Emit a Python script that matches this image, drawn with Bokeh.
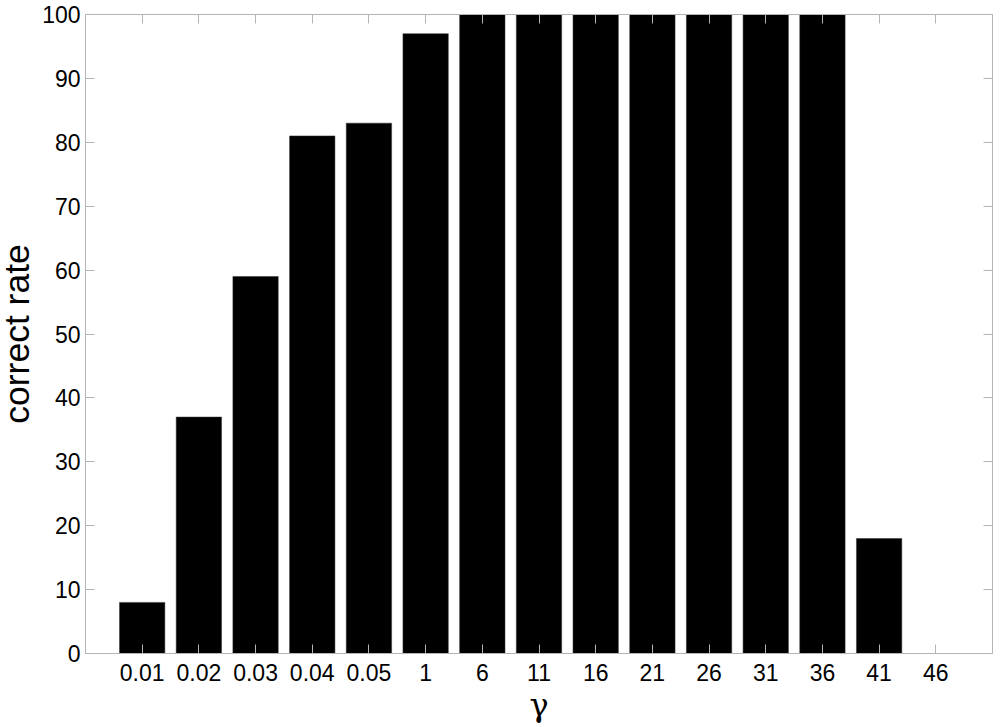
import numpy as np
from bokeh.plotting import figure
from bokeh.models import ColumnDataSource, Range1d, FixedTicker, LinearAxis
from bokeh.embed import file_html
from bokeh.resources import INLINE

categories = ["0.01", "0.02", "0.03", "0.04", "0.05", "1", "6", "11", "16",
              "21", "26", "31", "36", "41", "46"]
correct_rate = [8, 37, 59, 81, 83, 97, 100, 100, 100, 100, 100, 100, 100, 18, 0]
y_ticks = [0, 10, 20, 30, 40, 50, 60, 70, 80, 90, 100]

xpos = list(range(1, len(categories) + 1))
src = ColumnDataSource(dict(x=xpos, top=correct_rate, cat=categories))

FONT = "Liberation Sans"
GRAY = "#b4b4b4"

p = figure(width=1000, height=727, output_backend="svg", toolbar_location=None,
           x_range=Range1d(0, len(categories) + 1), y_range=Range1d(0, 100),
           min_border_left=86, min_border_right=5, min_border_top=14,
           min_border_bottom=74)
p.margin = (0, 0, 0, -6)
p.frame_width = 907
p.frame_height = 639
p.background_fill_color = "white"
p.border_fill_color = "white"
p.outline_line_color = GRAY
p.grid.visible = False

p.vbar(x="x", top="top", width=0.8, source=src, fill_color="black",
       line_color="#333333", line_width=0.5)

xt = FixedTicker(ticks=xpos)
yt = FixedTicker(ticks=y_ticks)

p.xaxis.ticker = xt
p.xaxis.major_label_overrides = {x: c for x, c in zip(xpos, categories)}
p.yaxis.ticker = yt

for ax in p.xaxis + p.yaxis:
    ax.axis_line_color = GRAY
    ax.major_tick_line_color = GRAY
    ax.major_tick_in = 9
    ax.major_tick_out = 0
    ax.minor_tick_line_color = None
    ax.major_label_text_font = FONT
    ax.major_label_text_font_size = "23px"
    ax.major_label_text_color = "black"
    ax.axis_label_text_font = FONT
    ax.axis_label_text_font_style = "normal"
    ax.axis_label_text_color = "black"

p.xaxis.major_label_standoff = 10
p.yaxis.major_label_standoff = 5
p.xaxis.axis_label = "γ"
p.xaxis.axis_label_text_font = "DejaVu Serif"
p.xaxis.axis_label_text_font_size = "32px"
p.xaxis.axis_label_standoff = 2
p.yaxis.axis_label = "correct rate"
p.yaxis.axis_label_text_font_size = "35.5px"
p.yaxis.axis_label_standoff = 2

right = LinearAxis(ticker=FixedTicker(ticks=y_ticks))
top = LinearAxis(ticker=FixedTicker(ticks=xpos))
for ax in (right, top):
    ax.axis_line_color = GRAY
    ax.major_tick_line_color = GRAY
    ax.major_tick_in = 9
    ax.major_tick_out = 0
    ax.minor_tick_line_color = None
    ax.major_label_text_font_size = "0px"
    ax.major_label_standoff = 0
    ax.major_label_text_color = None
p.add_layout(right, "right")
p.add_layout(top, "above")

open("out.html", "w").write(file_html(p, INLINE))
